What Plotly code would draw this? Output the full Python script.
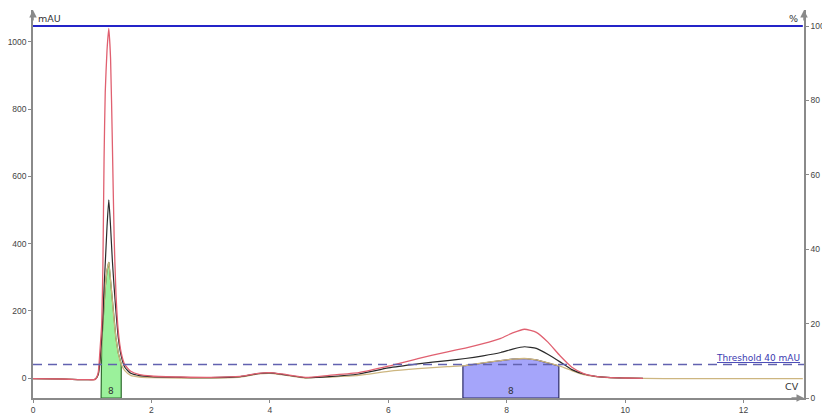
import numpy as np
import plotly.graph_objects as go

# ---------------- data ----------------
cv = [0.0, 0.5, 0.9, 1.05, 1.10, 1.13, 1.16, 1.18, 1.20, 1.22, 1.25, 1.28, 1.31, 1.34,
      1.37, 1.40, 1.44, 1.49, 1.55, 1.65, 1.8, 2.0, 2.5, 3.0, 3.5, 3.8, 4.0, 4.2, 4.6,
      5.0, 5.5, 6.0, 6.5, 7.0, 7.3, 7.6, 7.9, 8.1, 8.3, 8.5, 8.7, 8.9, 9.1, 9.3, 9.5,
      9.7, 10.0, 10.3]

uv_red = [-2, -3, -5, -4, 15, 80, 160, 330, 650, 850, 975, 1040, 950, 700,
          420, 255, 140, 75, 40, 20, 10, 6, 3, 2, 5, 14, 16, 12, 2,
          8, 16, 35, 58, 78, 89, 102, 118, 134, 145, 136, 106, 66, 32, 13, 5,
          2, 0, -1]

uv_black = [-2, -3, -5, -4, 10, 50, 120, 180, 270, 340, 450, 530, 450, 350,
            270, 200, 120, 65, 32, 14, 7, 4, 2, 1, 4, 13, 15, 11, 1,
            4, 12, 30, 42, 52, 58, 66, 76, 86, 93, 88, 70, 48, 25, 12, 5,
            2, 0, -1]

uv_tan = [-2, -3, -5, -4, 8, 40, 100, 160, 220, 270, 320, 345, 290, 230,
          170, 120, 75, 42, 22, 8, 3, 1, 0, 0, 3, 12, 14, 10, 0,
          3, 8, 20, 28, 34, 37, 45, 52, 56, 58, 54, 45, 35, 22, 10, 4,
          1, 0, -1]

tan_tail_cv = [10.3, 11.0, 13.0]
tan_tail_val = [-1, -2, -2]

conc_cv = [0.0, 13.0]
conc_pct = [100, 100]

threshold = 40

frac_start = [1.15, 7.26]
frac_end = [1.49, 8.88]
frac_labels = ["8", "8"]
frac_fill = ["rgba(150,240,150,0.95)", "rgba(160,160,250,0.95)"]
frac_line = ["#2f6b2f", "#2a2a66"]

x_ticks = [0, 2, 4, 6, 8, 10, 12]
y_ticks = [0, 200, 400, 600, 800, 1000]
y2_ticks = [0, 20, 40, 60, 80, 100]

# ---------------- figure ----------------
Y_MIN, Y_MAX = -59.5, 1095
Y2_MIN, Y2_MAX = 0, 104.3
X_MIN, X_MAX = 0, 13.02

fig = go.Figure()

tan_x = np.array(cv + tan_tail_cv[1:])
tan_y = np.array(uv_tan + tan_tail_val[1:])

# fraction fills (under the tan curve)
for s, e, fc, lc in zip(frac_start, frac_end, frac_fill, frac_line):
    inside = [(x, y) for x, y in zip(tan_x, tan_y) if s < x < e]
    xs = [s, s] + [p[0] for p in inside] + [e, e, s]
    ys = [Y_MIN, float(np.interp(s, tan_x, tan_y))] + [p[1] for p in inside] + \
         [float(np.interp(e, tan_x, tan_y)), Y_MIN, Y_MIN]
    fig.add_trace(go.Scatter(x=xs, y=ys, fill="toself", fillcolor=fc, mode="lines",
                             line=dict(color=lc, width=1.2), hoverinfo="skip",
                             showlegend=False))

# curves
fig.add_trace(go.Scatter(x=tan_x, y=tan_y, mode="lines",
                         line=dict(color="#cdb680", width=1.3, shape="spline", smoothing=0.5),
                         showlegend=False))
fig.add_trace(go.Scatter(x=cv, y=uv_black, mode="lines",
                         line=dict(color="#2b2b2b", width=1.2, shape="spline", smoothing=0.5),
                         showlegend=False))
fig.add_trace(go.Scatter(x=cv, y=uv_red, mode="lines",
                         line=dict(color="#e06070", width=1.3, shape="spline", smoothing=0.5),
                         showlegend=False))

# threshold
fig.add_trace(go.Scatter(x=[X_MIN, X_MAX], y=[threshold, threshold], mode="lines",
                         line=dict(color="#6262b0", width=1.4, dash="9px,6px"),
                         showlegend=False))

# concentration line on the % axis
fig.add_trace(go.Scatter(x=conc_cv, y=conc_pct, mode="lines", yaxis="y2",
                         line=dict(color="#2424c8", width=2), showlegend=False))

# fraction labels
for s, e, lab in zip(frac_start, frac_end, frac_labels):
    fig.add_annotation(x=(s + e) / 2, y=-38, text=lab, showarrow=False,
                       font=dict(size=9, color="#333333", family="DejaVu Sans"))

axis_col = "#8a8a8a"
tick_font = dict(size=8.5, color="#444444", family="Liberation Sans")

# page body adds an 8px offset; figure sized to fill the remaining window
fig.update_layout(
    width=822, height=407,
    margin=dict(l=25, r=26, t=2, b=17, autoexpand=False),
    paper_bgcolor="white", plot_bgcolor="white",
    xaxis=dict(range=[X_MIN, X_MAX], tickvals=x_ticks, showgrid=False, zeroline=False,
               showline=True, linecolor=axis_col, linewidth=1.5, ticks="outside",
               ticklen=3, tickcolor=axis_col, tickfont=tick_font, automargin=False,
               ticklabelstandoff=0),
    yaxis=dict(range=[Y_MIN, Y_MAX], tickvals=y_ticks, showgrid=False, zeroline=False,
               showline=True, linecolor=axis_col, linewidth=1.5, ticks="outside",
               ticklen=3, tickcolor=axis_col, tickfont=tick_font, automargin=False,
               ticklabelstandoff=0),
    yaxis2=dict(range=[Y2_MIN, Y2_MAX], tickvals=y2_ticks, overlaying="y", side="right",
                showgrid=False, zeroline=False, showline=True, linecolor=axis_col,
                linewidth=1.5, ticks="outside", ticklen=3, tickcolor=axis_col,
                tickfont=tick_font, automargin=False, ticklabelstandoff=0),
)

# axis arrows
for xv in [X_MIN, X_MAX]:
    fig.add_annotation(x=xv, y=1, xref="x", yref="paper", ax=0, ay=12, text="",
                       showarrow=True, arrowhead=2, arrowsize=1, arrowwidth=1.5,
                       arrowcolor=axis_col)
fig.add_annotation(x=X_MAX, y=0, xref="x", yref="paper", ax=-14, ay=0, text="",
                   showarrow=True, arrowhead=2, arrowsize=1, arrowwidth=1.5,
                   arrowcolor=axis_col)

# axis titles / labels
fig.add_annotation(x=0, y=1, xref="x", yref="paper", xshift=3, yshift=-1, text="mAU",
                   showarrow=False, xanchor="left", yanchor="top",
                   font=dict(size=9.5, color="#333333", family="DejaVu Sans"))
fig.add_annotation(x=X_MAX, y=1, xref="x", yref="paper", xshift=-4, yshift=-1, text="%",
                   showarrow=False, xanchor="right", yanchor="top",
                   font=dict(size=9.5, color="#333333", family="DejaVu Sans"))
fig.add_annotation(x=X_MAX, y=0, xref="x", yref="paper", xshift=-3, yshift=4, text="CV",
                   showarrow=False, xanchor="right", yanchor="bottom",
                   font=dict(size=9.5, color="#333333", family="DejaVu Sans"))
fig.add_annotation(x=X_MAX, y=threshold, xref="x", yref="y", xshift=-2, yshift=0,
                   text="<u>Threshold 40 mAU</u>", showarrow=False, xanchor="right",
                   yanchor="bottom",
                   font=dict(size=9, color="#3a3ab0", family="DejaVu Sans"))

fig.write_html("out.html")
